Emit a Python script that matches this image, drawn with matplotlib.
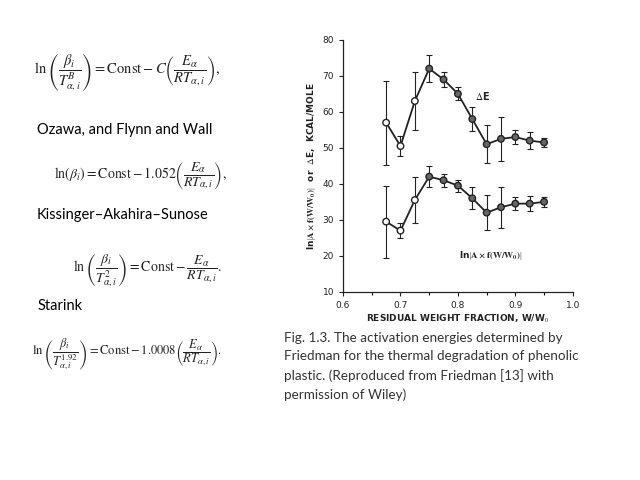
import matplotlib.pyplot as plt

plt.rcParams['mathtext.fontset'] = 'stix'

# Friedman data
fraction = [0.675, 0.7, 0.725, 0.75, 0.775, 0.8, 0.825, 0.85, 0.875, 0.9, 0.925, 0.95]
delta_e = [57, 50.5, 63, 72, 69, 65, 58, 51, 52.5, 53, 52, 51.5]
delta_e_err = [11.7, 2.7, 8, 3.7, 2.2, 1.8, 3.3, 5.3, 6.2, 2, 2.3, 1.3]
ln_af = [29.5, 27, 35.5, 42, 41, 39.5, 36, 32, 33.5, 34.5, 34.5, 35]
ln_af_err = [10, 2, 6.5, 3, 1.8, 1.7, 3, 4.8, 5.7, 1.8, 2, 1.3]
open_points = [True, True, True, False, False, False, False, False, False, False, False, False]

fig = plt.figure(figsize=(6.4, 4.8), dpi=100)

# equations + method names on the left
fig.text(0.199, 0.848, r'$\ln\left(\dfrac{\beta_i}{T^{B}_{\alpha,i}}\right)=\mathrm{Const}-C\left(\dfrac{E_\alpha}{RT_{\alpha,i}}\right),$',
         fontsize=10.5, ha='center', va='center', color='#222222')
fig.text(0.058, 0.729, 'Ozawa, and Flynn and Wall', fontsize=10.5, family='Lato', va='center')
fig.text(0.219, 0.635, r'$\ln(\beta_i)=\mathrm{Const}-1.052\left(\dfrac{E_\alpha}{RT_{\alpha,i}}\right),$',
         fontsize=10, ha='center', va='center', color='#222222')
fig.text(0.058, 0.552, 'Kissinger\u2013Akahira\u2013Sunose', fontsize=10.5, family='Lato', va='center')
fig.text(0.231, 0.437, r'$\ln\left(\dfrac{\beta_i}{T^{2}_{\alpha,i}}\right)=\mathrm{Const}-\dfrac{E_\alpha}{RT_{\alpha,i}}.$',
         fontsize=10, ha='center', va='center', color='#222222')
fig.text(0.058, 0.362, 'Starink', fontsize=10.5, family='Lato', va='center')
fig.text(0.199, 0.262, r'$\ln\left(\dfrac{\beta_i}{T^{1.92}_{\alpha,i}}\right)=\mathrm{Const}-1.0008\left(\dfrac{E_\alpha}{RT_{\alpha,i}}\right).$',
         fontsize=9, ha='center', va='center', color='#222222')

# caption
fig.text(0.444, 0.308, 'Fig. 1.3. The activation energies determined by\nFriedman for the thermal degradation of phenolic\nplastic. (Reproduced from Friedman [13] with\npermission of Wiley)',
         fontsize=9.7, family='Lato', va='top', linespacing=1.6, color='#333333')

# chart
ax = fig.add_axes([0.536, 0.392, 0.359, 0.525])
for vals, errs in [(delta_e, delta_e_err), (ln_af, ln_af_err)]:
    ax.errorbar(fraction, vals, yerr=errs, color='#222222', lw=1.3, elinewidth=0.8,
                capsize=2.5, capthick=0.8, zorder=2)
    fc = ['white' if o else '#666666' for o in open_points]
    ax.scatter(fraction, vals, s=22, facecolors=fc, edgecolors='#222222', linewidths=1, zorder=3)

ax.set_xlim(0.6, 1.0)
ax.set_ylim(10, 80)
ax.set_xticks([0.6, 0.7, 0.8, 0.9, 1.0])
ax.set_xticklabels(['0.6', '0.7', '0.8', '0.9', '1.0'])
ax.set_xticks([0.65, 0.75, 0.85, 0.95], minor=True)
ax.set_yticks(range(10, 81, 10))
ax.tick_params(labelsize=6.5, length=3, width=0.8, colors='#222222')
ax.tick_params(which='minor', length=2, width=0.8)
for s in ['top', 'right']:
    ax.spines[s].set_visible(False)
for s in ['left', 'bottom']:
    ax.spines[s].set_linewidth(0.9)
    ax.spines[s].set_color('#222222')

ax.set_xlabel('RESIDUAL WEIGHT FRACTION, W/W$_0$', fontsize=6.5, fontweight='bold', color='#222222', labelpad=2)
ax.set_ylabel(r'ln$\left[\mathbf{A \times f(W/W_0)}\right]$  or  $\Delta$E,  KCAL/MOLE', fontsize=6.5,
              fontweight='bold', color='#222222', labelpad=3)
ax.text(0.843, 64.5, r'$\Delta$E', fontsize=7, fontweight='bold', ha='center', va='center', color='#222222')
ax.text(0.857, 20, r'ln$\left[\mathbf{A \times f(W/W_0)}\right]$', fontsize=6.5, fontweight='bold',
        ha='center', va='center', color='#222222')

fig.savefig('out.png', dpi=100)
